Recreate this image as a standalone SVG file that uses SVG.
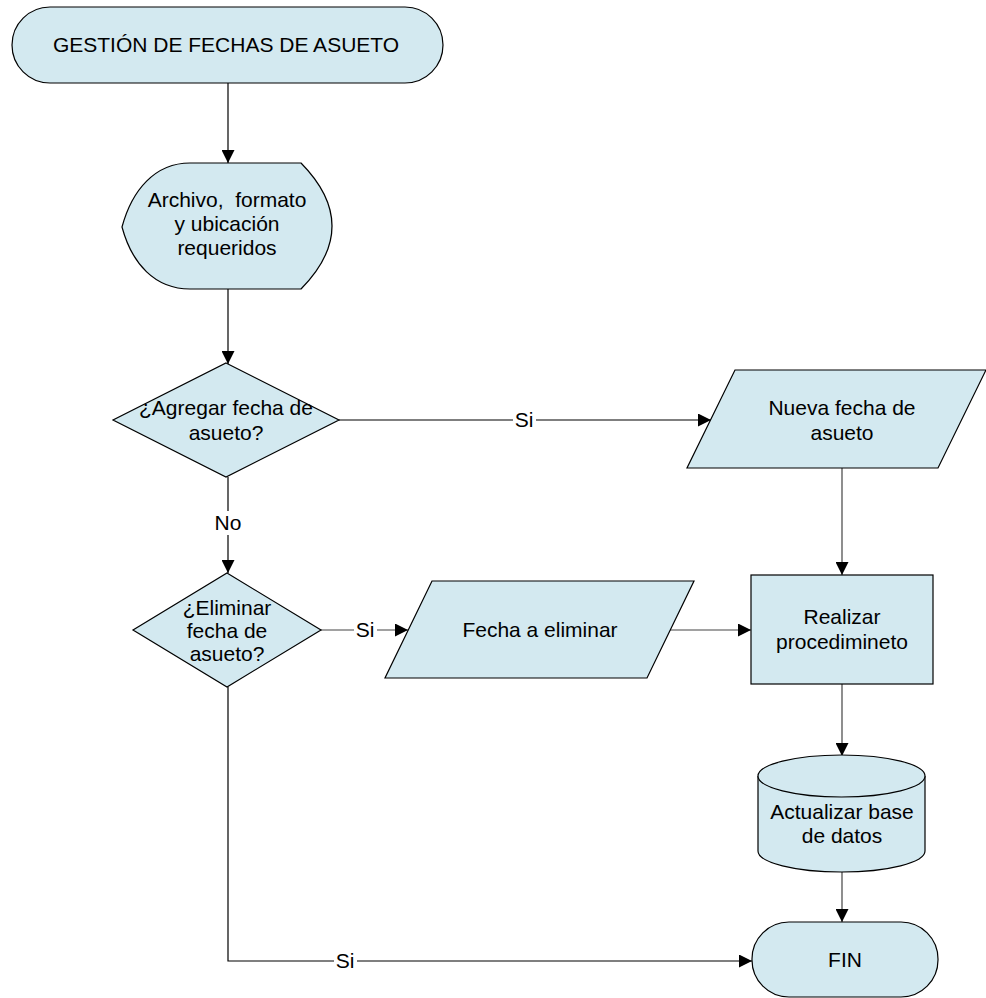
<svg xmlns="http://www.w3.org/2000/svg" width="986" height="998" viewBox="0 0 986 998">
<style>
.shape{fill:#d3e9f0;stroke:#000;stroke-width:1.2}
.t{font-family:"Liberation Sans",Arial,sans-serif;font-size:21px;fill:#000;text-anchor:middle}
.c{fill:none;stroke:#000;stroke-width:1.2}
.g{fill:none;stroke:#444;stroke-width:1.2}
.lb{fill:#fff}
</style>
<defs>
<marker id="arr" markerUnits="userSpaceOnUse" markerWidth="13" markerHeight="13" refX="13" refY="6.5" orient="auto">
<path d="M0,0 L13,6.5 L0,13 z" fill="#000"/>
</marker>
</defs>
<rect width="986" height="998" fill="#fff"/>
<g id="connectors">
<path class="c" d="M228,83 V163" marker-end="url(#arr)"/>
<path class="c" d="M228,289 V364" marker-end="url(#arr)"/>
<path class="c" d="M339,420 H711" marker-end="url(#arr)"/>
<path class="c" d="M228,477 V573" marker-end="url(#arr)"/>
<path class="g" d="M842,468 V575" marker-end="url(#arr)"/>
<path class="g" d="M321,630 H408" marker-end="url(#arr)"/>
<path class="g" d="M670,630 H751" marker-end="url(#arr)"/>
<path class="g" d="M842,684 V756" marker-end="url(#arr)"/>
<path class="g" d="M842,872 V922" marker-end="url(#arr)"/>
<path class="c" d="M228,687 V961 H752" marker-end="url(#arr)"/>
<rect class="lb" x="513" y="408" width="23" height="24"/>
<text class="t" x="524" y="427">Si</text>
<rect class="lb" x="212" y="511" width="32" height="24"/>
<text class="t" x="228" y="530">No</text>
<rect class="lb" x="354" y="618" width="23" height="24"/>
<text class="t" x="365" y="637">Si</text>
<rect class="lb" x="334" y="949" width="23" height="24"/>
<text class="t" x="345" y="968">Si</text>
</g>
<g id="inicio">
<rect class="shape" x="12" y="7" width="431" height="76" rx="38" ry="38"/>
<text class="t" x="226" y="52">GESTIÓN DE FECHAS DE ASUETO</text>
</g>
<g id="archivo">
<path class="shape" d="M122,227 C132,190 155,163 190,163 L301,163 Q363,226 301,289 L190,289 C155,289 132,264 122,227 Z"/>
<text class="t" x="227" y="207" xml:space="preserve">Archivo,&#160; formato</text>
<text class="t" x="227" y="231">y ubicación</text>
<text class="t" x="227" y="255">requeridos</text>
</g>
<g id="agregar">
<path class="shape" d="M226,363 L339,420 L226,477 L113,420 Z"/>
<text class="t" x="226" y="415">¿Agregar fecha de</text>
<text class="t" x="226" y="440">asueto?</text>
</g>
<g id="nueva">
<path class="shape" d="M735,370 L986,370 L938,468 L687,468 Z"/>
<text class="t" x="842" y="415">Nueva fecha de</text>
<text class="t" x="842" y="440">asueto</text>
</g>
<g id="eliminar">
<path class="shape" d="M227,573 L321,630 L227,687 L133,630 Z"/>
<text class="t" x="227" y="615">¿Eliminar</text>
<text class="t" x="227" y="638">fecha de</text>
<text class="t" x="227" y="661">asueto?</text>
</g>
<g id="fecha-eliminar">
<path class="shape" d="M432,581 L694,581 L647,678 L385,678 Z"/>
<text class="t" x="540" y="637">Fecha a eliminar</text>
</g>
<g id="realizar">
<rect class="shape" x="751" y="575" width="182" height="109"/>
<text class="t" x="842" y="624">Realizar</text>
<text class="t" x="842" y="649">procedimineto</text>
</g>
<g id="actualizar">
<path class="shape" d="M758,776 A83.5,21 0 0,1 925,776 L925,851 A83.5,21 0 0,1 758,851 Z"/>
<path class="shape" d="M758,776 A83.5,21 0 0,0 925,776" fill="none"/>
<text class="t" x="842" y="819">Actualizar base</text>
<text class="t" x="842" y="843">de datos</text>
</g>
<g id="fin">
<rect class="shape" x="752" y="922" width="186" height="75" rx="37" ry="37"/>
<text class="t" x="845" y="967">FIN</text>
</g>
</svg>
